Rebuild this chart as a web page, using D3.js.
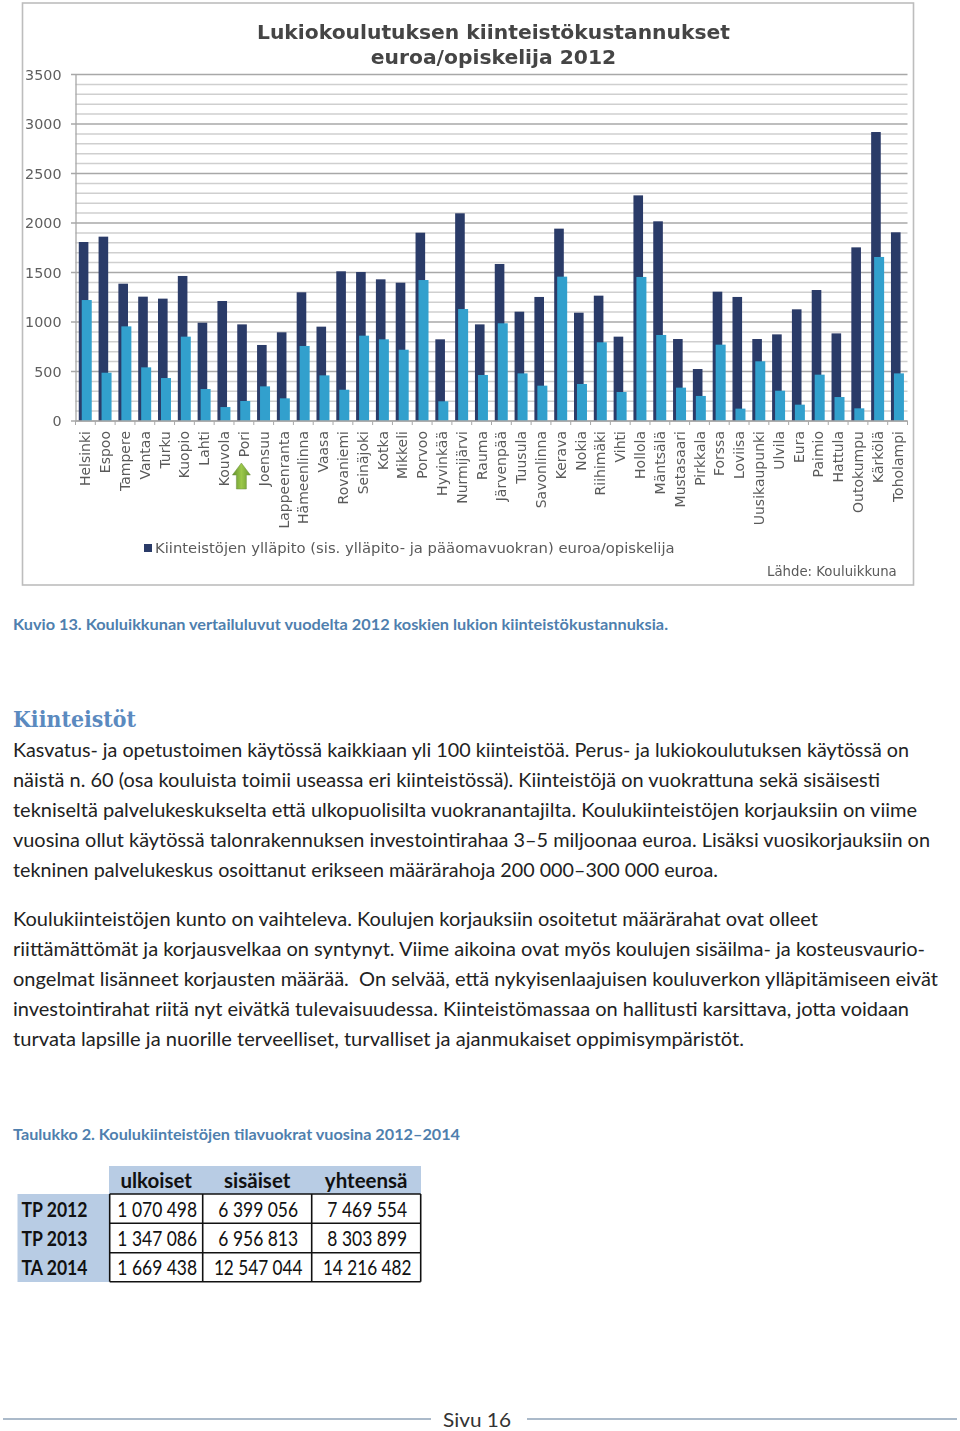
<!DOCTYPE html>
<html><head><meta charset="utf-8">
<script src="https://cdn.jsdelivr.net/npm/d3@7"></script>
<style>html,body{margin:0;padding:0;background:#fff}svg{display:block}</style>
</head><body><div id="c"></div>
<script>
const categories=["Helsinki","Espoo","Tampere","Vantaa","Turku","Kuopio","Lahti","Kouvola","Pori","Joensuu","Lappeenranta","Hämeenlinna","Vaasa","Rovaniemi","Seinäjoki","Kotka","Mikkeli","Porvoo","Hyvinkää","Nurmijärvi","Rauma","Järvenpää","Tuusula","Savonlinna","Kerava","Nokia","Riihimäki","Vihti","Hollola","Mäntsälä","Mustasaari","Pirkkala","Forssa","Loviisa","Uusikaupunki","Ulvila","Eura","Paimio","Hattula","Outokumpu","Kärkölä","Toholampi"];
const totalValues=[1808,1862,1387,1256,1236,1465,993,1212,976,768,896,1300,953,1512,1505,1431,1397,1902,825,2098,976,1586,1104,1253,1943,1094,1266,852,2279,2017,828,525,1306,1253,828,875,1128,1323,885,1754,2919,1906];
const secondValues=[1222,488,956,542,434,852,323,141,202,350,229,758,461,316,862,825,720,1424,199,1131,465,987,481,357,1458,374,795,293,1455,869,337,253,771,125,603,306,165,468,242,128,1657,481];
const yTicks=[0,500,1000,1500,2000,2500,3000,3500];
const titleLines=["Lukiokoulutuksen kiinteistökustannukset","euroa/opiskelija 2012"];
const legendText="Kiinteistöjen ylläpito (sis. ylläpito- ja pääomavuokran) euroa/opiskelija";
const sourceText="Lähde: Kouluikkuna";
const caption="Kuvio 13. Kouluikkunan vertailuluvut vuodelta 2012 koskien lukion kiinteistökustannuksia.";
const heading="Kiinteistöt";
const paragraph1=["Kasvatus- ja opetustoimen käytössä kaikkiaan yli 100 kiinteistöä. Perus- ja lukiokoulutuksen käytössä on","näistä n. 60 (osa kouluista toimii useassa eri kiinteistössä). Kiinteistöjä on vuokrattuna sekä sisäisesti","tekniseltä palvelukeskukselta että ulkopuolisilta vuokranantajilta. Koulukiinteistöjen korjauksiin on viime","vuosina ollut käytössä talonrakennuksen investointirahaa 3–5 miljoonaa euroa. Lisäksi vuosikorjauksiin on","tekninen palvelukeskus osoittanut erikseen määrärahoja 200 000–300 000 euroa."];
const paragraph1Right=[909,880,917,930,718];
const paragraph2=["Koulukiinteistöjen kunto on vaihteleva. Koulujen korjauksiin osoitetut määrärahat ovat olleet","riittämättömät ja korjausvelkaa on syntynyt. Viime aikoina ovat myös koulujen sisäilma- ja kosteusvaurio-","ongelmat lisänneet korjausten määrää.  On selvää, että nykyisenlaajuisen kouluverkon ylläpitämiseen eivät","investointirahat riitä nyt eivätkä tulevaisuudessa. Kiinteistömassaa on hallitusti karsittava, jotta voidaan","turvata lapsille ja nuorille terveelliset, turvalliset ja ajanmukaiset oppimisympäristöt."];
const paragraph2Right=[818,925,938,909,744];
const tableCaption="Taulukko 2. Koulukiinteistöjen tilavuokrat vuosina 2012–2014";
const tableHeaders=["ulkoiset","sisäiset","yhteensä"];
const tableRows=["TP 2012","TP 2013","TA 2014"];
const ulkoiset=["1 070 498","1 347 086","1 669 438"];
const sisaiset=["6 399 056","6 956 813","12 547 044"];
const yhteensa=["7 469 554","8 303 899","14 216 482"];
const footerText="Sivu 16";

const W=960,H=1431;
const svg=d3.select("#c").append("svg").attr("width",W).attr("height",H).attr("viewBox",`0 0 ${W} ${H}`);
const chartFont="'DejaVu Sans',Verdana,sans-serif", bodyFont="Lato,'Open Sans',sans-serif";
const dark="#2b3a67", light="#31a0cd", capBlue="#4f7fae";
const defs=svg.append("defs");
defs.append("filter").attr("id","soft").attr("filterUnits","userSpaceOnUse").attr("x",0).attr("y",0).attr("width",W).attr("height",620)
 .append("feGaussianBlur").attr("stdDeviation",0.45);
const chart=svg.append("g").attr("filter","url(#soft)");

chart.append("rect").attr("x",22.5).attr("y",3).attr("width",891).attr("height",582).attr("fill","#fff").attr("stroke","#bdbdbd").attr("stroke-width",1.6);

const x=d3.scaleBand().domain(categories).range([75.5,907.5]);
const y=d3.scaleLinear().domain([0,3500]).range([421,74.5]);
const minor=d3.range(0,3501,100).filter(v=>v%500!==0);
chart.append("g").selectAll("line").data(minor).join("line")
 .attr("x1",75.5).attr("x2",907.5).attr("y1",d=>y(d)).attr("y2",d=>y(d)).attr("stroke","#cfcfcf").attr("stroke-width",1.5);
chart.append("g").selectAll("line").data(yTicks).join("line")
 .attr("x1",71).attr("x2",907.5).attr("y1",d=>y(d)).attr("y2",d=>y(d)).attr("stroke","#a8a8a8").attr("stroke-width",1.4);

const yAxis=d3.axisLeft(y).tickValues(yTicks).tickSize(0).tickPadding(14).tickFormat(d3.format("d"));
const gy=chart.append("g").attr("transform","translate(75.5,0)").call(yAxis);
gy.select(".domain").attr("stroke","#a8a8a8").attr("stroke-width",1.3);
gy.selectAll("text").attr("font-family",chartFont).attr("font-size",14.3).attr("fill","#5f5f5f");

const bw=x.bandwidth();
chart.append("g").selectAll("rect").data(categories).join("rect")
 .attr("x",d=>x(d)+bw*0.165).attr("width",bw*0.485).attr("y",(d,i)=>y(totalValues[i])).attr("height",(d,i)=>y(0)-y(totalValues[i])).attr("fill",dark);
chart.append("g").selectAll("rect").data(categories).join("rect")
 .attr("x",d=>x(d)+bw*0.315).attr("width",bw*0.505).attr("y",(d,i)=>y(secondValues[i])).attr("height",(d,i)=>y(0)-y(secondValues[i])).attr("fill",light);

chart.append("g").selectAll("line").data(d3.range(categories.length+1)).join("line")
 .attr("x1",i=>75.5+i*bw).attr("x2",i=>75.5+i*bw).attr("y1",421).attr("y2",425).attr("stroke","#a8a8a8").attr("stroke-width",1);
chart.append("line").attr("x1",75.5).attr("x2",907.5).attr("y1",421).attr("y2",421).attr("stroke","#a8a8a8").attr("stroke-width",1.3);

chart.append("g").selectAll("text").data(categories).join("text")
 .attr("transform",d=>`translate(${x(d)+bw/2+5},431) rotate(-90)`)
 .attr("text-anchor","end").attr("font-family",chartFont).attr("font-size",14).attr("fill","#5a5a5a").text(d=>d);

// annotation arrow beneath Pori
const ax=x("Pori")+bw/2-2.5;
const grad=defs.append("linearGradient").attr("id","ag").attr("x1",0).attr("x2",1).attr("y1",0).attr("y2",0);
grad.append("stop").attr("offset","0").attr("stop-color","#5f8f2a");
grad.append("stop").attr("offset","0.5").attr("stop-color","#9cc84a");
grad.append("stop").attr("offset","1").attr("stop-color","#6a9a30");
chart.append("path").attr("transform",`translate(${ax},463)`).attr("d","M0,0L9,12L5,12L5,26L-5,26L-5,12L-9,12Z").attr("fill","url(#ag)").attr("stroke","#6f8f45").attr("stroke-width",.5);

chart.append("g").selectAll("text").data(titleLines).join("text")
 .attr("x",493.5).attr("y",(d,i)=>39+i*25).attr("text-anchor","middle").attr("font-family",chartFont).attr("font-weight","bold").attr("font-size",20.3).attr("fill","#454545").text(d=>d);

chart.append("rect").attr("x",144).attr("y",544).attr("width",8).attr("height",8).attr("fill",dark);
chart.append("text").attr("x",155).attr("y",553).attr("font-family",chartFont).attr("font-size",14.8).attr("fill","#5a5a5a").text(legendText);
chart.append("text").attr("x",767).attr("y",576).attr("font-family",chartFont).attr("font-size",13.3).attr("fill","#5a5a5a").text(sourceText);

svg.append("text").attr("x",13).attr("y",630).attr("font-family",bodyFont).attr("font-weight","bold").attr("font-size",16).attr("fill",capBlue).attr("textLength",655).attr("lengthAdjust","spacingAndGlyphs").text(caption);
svg.append("text").attr("x",13).attr("y",727).attr("font-family","'DejaVu Serif','Liberation Serif',serif").attr("font-weight","bold").attr("font-size",23).attr("fill","#5b8abf").attr("textLength",123).attr("lengthAdjust","spacingAndGlyphs").text(heading);

function para(lines,rights,base){
 svg.append("g").selectAll("text").data(lines).join("text")
  .attr("x",13).attr("y",(d,i)=>base+i*30).attr("font-family",bodyFont).attr("font-size",20).attr("fill","#222").style("white-space","pre")
  .attr("textLength",(d,i)=>rights[i]-13).attr("lengthAdjust","spacingAndGlyphs").text(d=>d);
}
para(paragraph1,paragraph1Right,757);
para(paragraph2,paragraph2Right,926);

svg.append("text").attr("x",13).attr("y",1140).attr("font-family",bodyFont).attr("font-weight","bold").attr("font-size",16).attr("fill",capBlue).attr("textLength",447).attr("lengthAdjust","spacingAndGlyphs").text(tableCaption);

// table
const colEdges=[109.7,202.7,311.7,420.7], rowEdges=[1194,1223.3,1252.7,1281.7];
const colValues=[ulkoiset,sisaiset,yhteensa];
const tb=svg.append("g");
tb.append("rect").attr("x",109).attr("y",1166).attr("width",312).attr("height",28).attr("fill","#b8cce4");
tb.append("rect").attr("x",17.5).attr("y",1194).attr("width",92).attr("height",88).attr("fill","#b8cce4");
tb.append("g").selectAll("text").data(tableHeaders).join("text")
 .attr("x",(d,i)=>(colEdges[i]+colEdges[i+1])/2).attr("y",1188).attr("text-anchor","middle").attr("font-family",bodyFont).attr("font-weight","bold").attr("font-size",20.5).attr("fill","#111").text(d=>d);
tb.append("g").selectAll("text").data(tableRows).join("text")
 .attr("x",21.5).attr("y",(d,i)=>rowEdges[i]+22.6).attr("font-family",bodyFont).attr("font-weight","bold").attr("font-size",20.5).attr("fill","#111")
 .attr("textLength",66).attr("lengthAdjust","spacingAndGlyphs").text(d=>d);
colValues.forEach((vals,c)=>{
 tb.append("g").selectAll("text").data(vals).join("text")
  .attr("x",d=>(colEdges[c]+colEdges[c+1])/2+1-d.length*4.43).attr("y",(d,i)=>rowEdges[i]+22.6).attr("font-family",bodyFont).attr("font-size",20.5).attr("fill","#111")
  .attr("textLength",d=>d.length*8.86).attr("lengthAdjust","spacingAndGlyphs").text(d=>d);
});
tb.append("g").selectAll("line").data(rowEdges).join("line").attr("x1",109.7).attr("x2",420.7).attr("y1",d=>d).attr("y2",d=>d).attr("stroke","#111").attr("stroke-width",1.6);
tb.append("g").selectAll("line").data(colEdges).join("line").attr("x1",d=>d).attr("x2",d=>d).attr("y1",1194).attr("y2",1281.7).attr("stroke","#111").attr("stroke-width",1.6);

// footer
svg.append("line").attr("x1",3).attr("x2",431).attr("y1",1419).attr("y2",1419).attr("stroke","#8fa3b8").attr("stroke-width",1.5);
svg.append("line").attr("x1",527).attr("x2",957).attr("y1",1419).attr("y2",1419).attr("stroke","#8fa3b8").attr("stroke-width",1.5);
svg.append("text").attr("x",443).attr("y",1426.5).attr("font-family",bodyFont).attr("font-size",20).attr("fill","#333").attr("textLength",68).attr("lengthAdjust","spacingAndGlyphs").text(footerText);
</script></body></html>
